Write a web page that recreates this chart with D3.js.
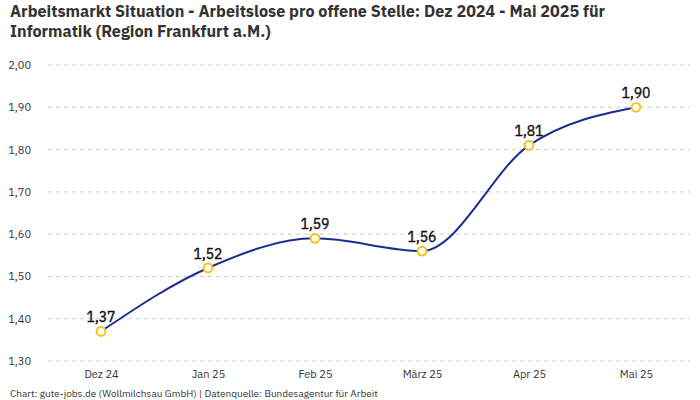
<!DOCTYPE html>
<html>
<head>
<meta charset="utf-8">
<script src="https://cdn.jsdelivr.net/npm/d3@7"></script>
<style>
  body { margin: 0; background: #fff; }
  text { font-family: "IBM Plex Sans", Roboto, "Noto Sans", sans-serif; }
</style>
</head>
<body>
<svg id="chart" width="700" height="400"></svg>
<script>
const categories = ['Dez 24', 'Jan 25', 'Feb 25', 'März 25', 'Apr 25', 'Mai 25'];
const values = [1.37, 1.52, 1.59, 1.56, 1.81, 1.90];
const yTicks = [1.3, 1.4, 1.5, 1.6, 1.7, 1.8, 1.9, 2.0];
const titleLines = ['Arbeitsmarkt Situation - Arbeitslose pro offene Stelle: Dez 2024 - Mai 2025 für', 'Informatik (Region Frankfurt a.M.)'];

const svg = d3.select('#chart');
const fmt = v => d3.format('.2f')(v).replace('.', ',');

const x = d3.scalePoint().domain(categories).range([47.5, 689.5]).padding(0.5);
const y = d3.scaleLinear().domain([1.3, 2.0]).range([361, 65]);

// title
svg.append('g')
  .selectAll('text')
  .data(titleLines)
  .enter().append('text')
  .attr('x', 10).attr('y', (d, i) => 16.5 + i * 20)
  .attr('font-size', 16.2).attr('font-weight', 'bold').attr('fill', '#333')
  .text(d => d);

// grid
svg.append('g')
  .selectAll('line')
  .data(yTicks)
  .enter().append('line')
  .attr('x1', 48).attr('x2', 690)
  .attr('y1', d => y(d)).attr('y2', d => y(d))
  .attr('stroke', '#ccc').attr('stroke-dasharray', '4,4');

// y axis
const yAxis = svg.append('g')
  .attr('transform', 'translate(34,0)')
  .call(d3.axisLeft(y).tickValues(yTicks).tickFormat(fmt).tickSize(0));
yAxis.select('.domain').remove();
yAxis.selectAll('text').attr('font-size', 11).attr('fill', '#333')
  .attr('font-family', '"IBM Plex Sans", Roboto, "Noto Sans", sans-serif');

// x axis
const xAxis = svg.append('g')
  .attr('transform', 'translate(0,367)')
  .call(d3.axisBottom(x).tickSize(0));
xAxis.select('.domain').remove();
xAxis.selectAll('text').attr('font-size', 11).attr('fill', '#333')
  .attr('font-family', '"IBM Plex Sans", Roboto, "Noto Sans", sans-serif');

const pts = categories.map((c, i) => ({c, v: values[i]}));

// line
const line = d3.line()
  .x(d => x(d.c)).y(d => y(d.v))
  .curve(d3.curveMonotoneX);

svg.append('path')
  .datum(pts)
  .attr('d', line)
  .attr('fill', 'none')
  .attr('stroke', '#1c2d91')
  .attr('stroke-width', 2);

// markers
svg.append('g')
  .selectAll('circle')
  .data(pts)
  .enter().append('circle')
  .attr('cx', d => x(d.c)).attr('cy', d => y(d.v))
  .attr('r', 4.4)
  .attr('fill', '#fff')
  .attr('stroke', '#f7c21a')
  .attr('stroke-width', 2);

// labels (medium look: regular weight + thin stroke)
svg.append('g')
  .selectAll('text')
  .data(pts)
  .enter().append('text')
  .attr('x', d => x(d.c)).attr('y', d => y(d.v) - 9)
  .attr('text-anchor', 'middle')
  .attr('font-size', 14).attr('font-weight', 'normal').attr('fill', '#111')
  .attr('stroke', '#111').attr('stroke-width', 0.4)
  .text(d => fmt(d.v));

// footer
svg.append('text')
  .attr('x', 10).attr('y', 397)
  .attr('font-size', 10).attr('fill', '#333')
  .text('Chart: gute-jobs.de (Wollmilchsau GmbH) | Datenquelle: Bundesagentur für Arbeit');
</script>
</body>
</html>
